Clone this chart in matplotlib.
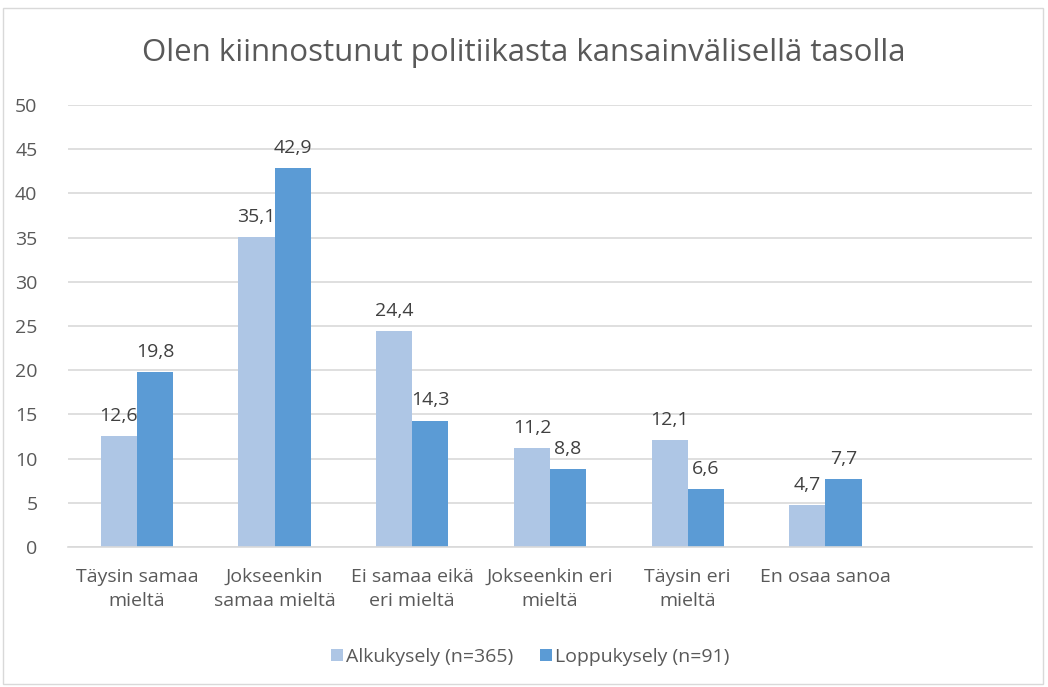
import matplotlib
matplotlib.use("Agg")
import matplotlib.pyplot as plt
from matplotlib.patches import Rectangle
import numpy as np

categories = ["Täysin samaa\nmieltä", "Jokseenkin\nsamaa mieltä", "Ei samaa eikä\neri mieltä",
              "Jokseenkin eri\nmieltä", "Täysin eri\nmieltä", "En osaa sanoa", ""]
alku = [12.6, 35.1, 24.4, 11.2, 12.1, 4.7]
loppu = [19.8, 42.9, 14.3, 8.8, 6.6, 7.7]
series_names = ["Alkukysely (n=365)", "Loppukysely (n=91)"]
title = "Olen kiinnostunut politiikasta kansainvälisellä tasolla"
yticks = [0, 5, 10, 15, 20, 25, 30, 35, 40, 45, 50]

plt.rcParams['font.family'] = ['Open Sans', 'DejaVu Sans']
TXT = "#595959"
C1 = "#AEC6E5"
C2 = "#5B9BD5"

fig = plt.figure(figsize=(10.48, 6.87), dpi=100)
fig.patches.append(Rectangle((3/1048, 3/687), 1040/1048, 676/687, transform=fig.transFigure,
                             fill=False, edgecolor="#D9D9D9", linewidth=1))
ax = fig.add_axes([68/1048, 1-547/687, 964/1048, 442/687])

n = len(categories)
x = np.arange(n)
w = 0.262
xa = np.arange(len(alku))
b1 = ax.bar(xa - w/2, alku, w, color=C1, label=series_names[0], zorder=2)
b2 = ax.bar(xa + w/2, loppu, w, color=C2, label=series_names[1], zorder=2)

def fmt(v):
    return f"{v:.1f}".replace(".", ",")

for bars, vals in ((b1, alku), (b2, loppu)):
    for r, v in zip(bars, vals):
        ax.annotate(fmt(v), (r.get_x() + r.get_width()/2, v), xytext=(0, 8),
                    textcoords="offset points", ha="center", va="bottom",
                    fontsize=14, color="#404040")

ax.set_xlim(-0.5, n - 0.5)
ax.set_ylim(0, 50)
ax.set_yticks(yticks)
ax.set_yticklabels([str(t) for t in yticks], fontsize=14, color=TXT)
ax.set_xticks(x)
ax.set_xticklabels(categories, fontsize=14, color=TXT, linespacing=1.45)
ax.tick_params(axis="both", length=0)
ax.tick_params(axis="y", pad=22)
ax.tick_params(axis="x", pad=15)
ax.yaxis.grid(True, color="#D9D9D9", linewidth=1.2, zorder=0)
for s in ["top", "right", "left"]:
    ax.spines[s].set_visible(False)
ax.spines["bottom"].set_color("#D9D9D9")
ax.spines["bottom"].set_linewidth(1.2)

fig.text(0.5, 1-53/687, title, ha="center", va="center", fontsize=22.5, color=TXT)

leg = fig.legend(handles=[b1, b2], labels=series_names, loc="center",
                 bbox_to_anchor=(530/1048, 1-657/687), ncol=2, frameon=False,
                 fontsize=14, handlelength=0.6, handleheight=0.6, handletextpad=0.15,
                 columnspacing=1.4)
for t in leg.get_texts():
    t.set_color(TXT)

fig.savefig("out.png", dpi=100)
